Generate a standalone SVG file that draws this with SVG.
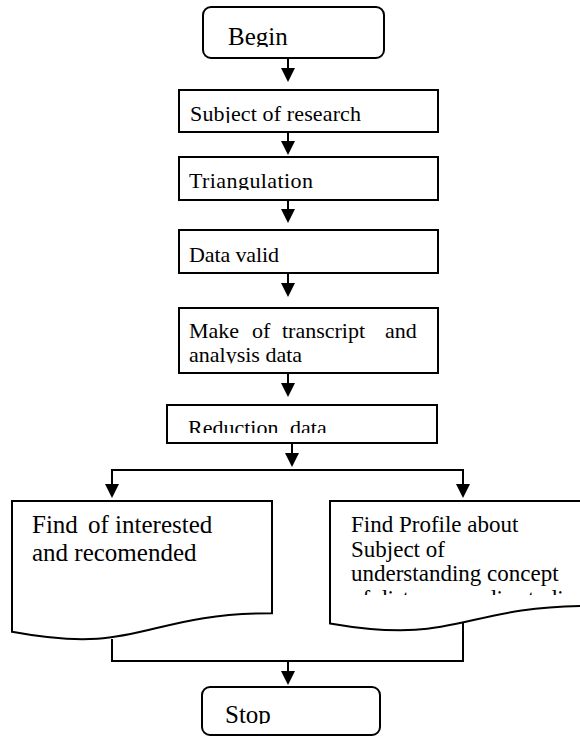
<svg xmlns="http://www.w3.org/2000/svg" width="580" height="736" viewBox="0 0 580 736">
<style>
.box{fill:#fff;stroke:#000;stroke-width:2}
.t{font-family:"Liberation Serif","Times New Roman",serif;fill:#000}
.ln{fill:none;stroke:#000;stroke-width:2}
.arr{fill:none;stroke:#000;stroke-width:2;marker-end:url(#ah)}
</style>
<defs>
<marker id="ah" markerUnits="userSpaceOnUse" markerWidth="14" markerHeight="14" viewBox="0 0 14 14" refX="8" refY="7" orient="auto">
<path d="M0,0 L14,7 L0,14 z" fill="#000"/>
</marker>
<clipPath id="c-begin"><rect x="203" y="7" width="181" height="40"/></clipPath>
<clipPath id="c-subj"><rect x="179" y="90" width="259" height="33"/></clipPath>
<clipPath id="c-tri"><rect x="179" y="157" width="259" height="33"/></clipPath>
<clipPath id="c-make"><rect x="179" y="308" width="259" height="55.5"/></clipPath>
<clipPath id="c-red"><rect x="167" y="405" width="270" height="28"/></clipPath>
<clipPath id="c-stop"><rect x="202" y="687" width="178" height="37"/></clipPath>
<clipPath id="c-rdoc"><rect x="330" y="501" width="260" height="94"/></clipPath>
</defs>
<rect width="580" height="736" fill="#fff"/>

<g id="connectors">
<path class="arr" d="M288,58 L288,76"/>
<path class="arr" d="M288,132 L288,149"/>
<path class="arr" d="M288,200 L288,217"/>
<path class="arr" d="M288,273 L288,291"/>
<path class="arr" d="M288,373 L288,391"/>
<path class="arr" d="M292,443 L292,461"/>
<path class="arr" d="M292,470 L112,470 L112,492"/>
<path class="arr" d="M292,470 L463,470 L463,492"/>
<path class="ln" d="M112,639 L112,661 L463,661 L463,623"/>
<path class="arr" d="M288,661 L288,679"/>
</g>

<g id="begin">
<rect class="box" x="203" y="7" width="181" height="51" rx="8"/>
<text class="t" x="228" y="45" font-size="25" clip-path="url(#c-begin)">Begin</text>
</g>

<g id="subject">
<rect class="box" x="179" y="90" width="259" height="42"/>
<text class="t" x="190" y="121" font-size="22" textLength="171" clip-path="url(#c-subj)">Subject of research</text>
</g>

<g id="triangulation">
<rect class="box" x="179" y="157" width="259" height="43"/>
<text class="t" x="189" y="188" font-size="22" textLength="124" clip-path="url(#c-tri)">Triangulation</text>
</g>

<g id="data-valid">
<rect class="box" x="179" y="230" width="259" height="43"/>
<text class="t" x="189" y="262" font-size="22" textLength="90">Data valid</text>
</g>

<g id="transcript">
<rect class="box" x="179" y="308" width="259" height="65"/>
<g clip-path="url(#c-make)">
<text class="t" y="338" font-size="22"><tspan x="189">Make</tspan><tspan x="252">of</tspan><tspan x="282">transcript</tspan><tspan x="385">and</tspan></text>
<text class="t" x="189" y="362" font-size="22">analysis data</text>
</g>
</g>

<g id="reduction">
<rect class="box" x="167" y="405" width="270" height="38"/>
<text class="t" y="434.5" font-size="22" clip-path="url(#c-red)"><tspan x="188">Reduction</tspan><tspan x="290">data</tspan></text>
</g>

<g id="find-interested">
<path class="box" d="M12,501 L272,501 L272,613.3 C142,613.3 142,656 12,631.8 Z"/>
<text class="t" y="533" font-size="25"><tspan x="32">Find</tspan><tspan x="88">of interested</tspan></text>
<text class="t" x="32" y="561" font-size="25">and recomended</text>
</g>

<g id="find-profile">
<path class="box" d="M330,501 L590,501 L590,606 C460,606 460,646 330,623.4 Z"/>
<g clip-path="url(#c-rdoc)">
<text class="t" x="351" y="532" font-size="23">Find Profile about</text>
<text class="t" x="351" y="557" font-size="23">Subject of</text>
<text class="t" x="351" y="581" font-size="23">understanding concept</text>
<text class="t" x="351" y="606" font-size="23">of distance media studies</text>
</g>
</g>

<g id="stop">
<rect class="box" x="202" y="687" width="178" height="48" rx="8"/>
<text class="t" x="225" y="723" font-size="25" clip-path="url(#c-stop)">Stop</text>
</g>
</svg>
